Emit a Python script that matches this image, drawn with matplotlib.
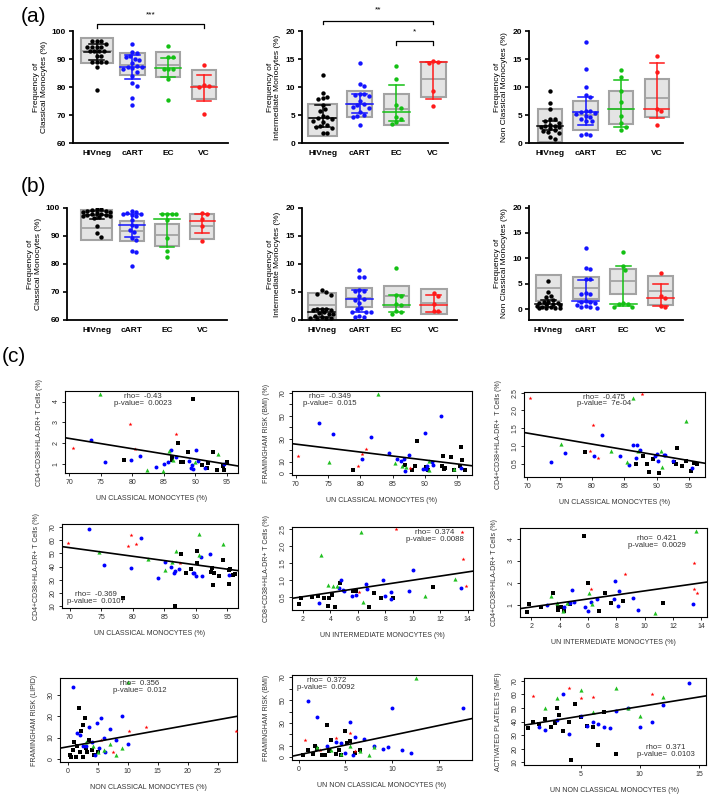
import numpy as np
import matplotlib
matplotlib.use('Agg')
import matplotlib.pyplot as plt
from matplotlib.patches import Rectangle

plt.rcParams['font.family'] = ['Liberation Sans', 'DejaVu Sans']

W, H = 709, 795

groups = ['HIVneg', 'cART', 'EC', 'VC']
prism_colors = ['black', '#1414ff', '#14c014', '#ff1a1a']

# ---- panel (a) ----
a_classical_pts = [
    [96.3, 96.3, 96.3, 95.5, 94.4, 94.4, 94.4, 94.4, 92.9, 92.9, 92.9, 92.9, 90.9, 90.9,
     89.0, 89.0, 89.0, 89.0, 87.0, 79.0],
    [95.5, 92.5, 92.0, 91.0, 90.6, 90.0, 89.5, 88.5, 87.5, 87.3, 87.0, 86.8, 86.5, 85.5,
     84.0, 81.5, 80.5, 76.0, 73.7],
    [94.5, 90.8, 90.8, 86.5, 86.3, 86.5, 83.0, 75.2],
    [87.7, 80.8, 80.2, 80.0, 70.5]]
a_classical_box = [(88.7, 92.9, 97.6), (84.3, 88.0, 92.1), (83.5, 87.8, 92.4), (75.8, 80.3, 85.9)]
a_classical_bar = [(89.5, 92.6, 95.5), (83.0, 87.0, 91.5), (83.5, 86.7, 90.5), (75.1, 80.0, 84.3)]

a_inter_pts = [
    [12.1, 9.0, 8.3, 8.1, 7.9, 6.8, 6.0, 5.7, 4.8, 4.6, 4.5, 4.3, 4.0, 3.8, 3.3, 3.0, 2.8,
     2.7, 1.7, 1.7],
    [14.2, 10.5, 10.2, 8.8, 8.7, 8.5, 8.4, 7.5, 7.0, 6.7, 6.4, 6.3, 5.6, 5.0, 4.8, 4.7, 3.2],
    [13.8, 11.4, 6.8, 6.3, 4.7, 4.2, 3.8, 3.4],
    [14.6, 14.4, 14.3, 9.2, 6.6]]
a_inter_box = [(1.2, 4.4, 6.9), (4.6, 7.0, 9.3), (3.3, 6.0, 8.7), (8.3, 11.4, 14.4)]
a_inter_bar = [(2.8, 4.4, 6.8), (5.3, 7.0, 8.8), (4.0, 5.6, 10.3), (7.9, 14.5, 14.5)]

a_nonclass_pts = [
    [9.3, 7.1, 6.1, 4.3, 4.2, 4.0, 3.5, 3.3, 3.1, 3.0, 2.9, 2.8, 2.7, 2.4, 2.2, 1.9, 1.7,
     1.0, 0.8],
    [18.1, 13.3, 10.0, 8.5, 8.2, 5.8, 5.7, 5.5, 5.4, 5.2, 4.9, 4.7, 4.2, 3.9, 3.9, 1.6, 1.5, 1.4],
    [13.0, 11.8, 9.2, 7.3, 4.9, 3.5, 2.8, 2.3],
    [15.6, 12.7, 6.1, 5.7, 3.2]]
a_nonclass_box = [(0.2, 3.1, 6.0), (2.4, 5.0, 7.5), (3.4, 6.1, 9.2), (4.6, 8.0, 11.4)]
a_nonclass_bar = [(2.3, 3.1, 4.0), (3.2, 5.5, 8.2), (2.9, 6.1, 11.2), (4.4, 6.1, 14.2)]

# ---- panel (b) ----
b_classical_pts = [
    [99.8, 99.5, 99.3, 99.0, 98.8, 98.6, 98.4, 98.2, 98.0, 97.8, 97.6, 97.4, 97.2, 97.0,
     96.7, 96.4, 93.5, 91.0, 89.8],
    [98.8, 98.5, 98.3, 98.0, 97.8, 97.5, 97.0, 95.6, 93.8, 93.5, 92.3, 91.5, 89.2, 88.7,
     84.8, 84.3, 79.2],
    [98.0, 98.0, 97.8, 97.7, 95.6, 89.4, 84.8, 82.6],
    [98.3, 97.7, 95.9, 93.6, 88.2]]
b_classical_box = [(88.7, 93.0, 99.4), (88.1, 91.8, 95.5), (86.3, 90.3, 94.4), (88.8, 93.4, 98.0)]
b_classical_bar = [(96.0, 97.6, 98.8), (89.5, 94.1, 98.0), (86.0, 96.0, 97.8), (91.0, 95.5, 97.8)]

b_inter_pts = [
    [5.3, 5.0, 4.7, 4.5, 2.0, 1.9, 1.9, 1.8, 1.7, 1.5, 1.3, 1.1, 1.0, 0.8, 0.5, 0.4, 0.3,
     0.3, 0.2],
    [9.0, 7.7, 7.6, 5.3, 5.2, 5.1, 4.2, 3.7, 3.6, 3.0, 2.2, 2.0, 1.5, 1.4, 1.4, 0.7, 0.6, 0.5],
    [9.2, 4.5, 4.3, 2.9, 2.7, 1.6, 1.4, 1.1],
    [4.9, 4.3, 2.9, 1.6, 1.6]]
b_inter_box = [(0.3, 2.6, 4.9), (2.4, 4.0, 5.7), (2.4, 4.2, 6.1), (1.1, 3.1, 5.5)]
b_inter_bar = [(0.5, 1.5, 2.0), (1.4, 3.8, 5.3), (1.4, 2.7, 4.4), (1.5, 2.7, 4.5)]

b_nonclass_pts = [
    [5.5, 3.5, 2.6, 2.5, 1.8, 1.5, 1.4, 1.3, 1.2, 1.1, 1.0, 0.8, 0.7, 0.5, 0.4, 0.3, 0.3,
     0.2, 0.2],
    [12.1, 8.1, 8.0, 6.0, 5.9, 3.2, 3.1, 3.0, 1.6, 1.5, 1.4, 1.2, 0.8, 0.6, 0.5, 0.4, 0.3],
    [11.3, 8.6, 7.8, 1.2, 1.0, 1.0, 0.5, 0.4],
    [7.2, 2.6, 2.2, 0.6, 0.4]]
b_nonclass_box = [(1.6, 4.1, 6.7), (2.0, 4.1, 6.3), (3.1, 5.5, 8.0), (0.8, 3.6, 6.5)]
b_nonclass_bar = [(0.5, 1.1, 1.8), (1.4, 1.6, 5.8), (0.7, 1.0, 8.5), (0.6, 2.2, 5.0)]

# ---- panel (c) scatter data: K=HIVneg, B=cART, G=EC, R=VC ----
c11_g = 'GRBBKRBRBGBGBBGBKKGBRKKKBKBBBKGBBKKKBKGKKBKK'
c11_x = [74.9, 70.5, 73.5, 75.6, 78.6, 79.7, 79.8, 80.5, 81.2, 82.3, 83.8, 84.8, 85.1, 85.7,
         85.8, 86.2, 86.3, 86.3, 86.5, 86.9, 87.0, 87.2, 87.7, 88.0, 89.0, 88.8, 89.3, 89.5,
         89.7, 89.6, 89.9, 90.2, 90.4, 91.1, 91.8, 92.1, 91.6, 92.9, 93.6, 93.5, 94.4, 94.6,
         95.1, 94.6]
c11_y = [4.37, 1.75, 2.12, 1.06, 1.16, 2.91, 1.19, 1.72, 1.37, 0.71, 0.82, 0.66, 0.97, 1.10,
         1.59, 1.66, 1.16, 1.30, 1.16, 1.32, 2.41, 2.00, 1.08, 1.08, 1.14, 1.58, 0.77, 0.92,
         0.76, 4.14, 1.10, 1.68, 1.11, 0.92, 0.81, 1.03, 0.77, 1.58, 1.46, 0.71, 0.89, 0.98,
         1.06, 0.69]

c12_g = 'RBGBKRBRRBGBGBBGBKBGBRKKKBBKBKGGBBBBKKKKKGKBKKKK'
c12_x = [70.4, 73.6, 75.1, 75.8, 78.9, 79.7, 80.2, 80.2, 80.9, 81.7, 82.8, 84.4, 85.4, 85.6,
         86.3, 86.4, 86.8, 86.9, 86.9, 87.0, 87.5, 87.7, 88.0, 88.5, 88.8, 89.7, 90.1, 90.2,
         90.3, 90.5, 90.7, 90.7, 91.1, 91.3, 92.5, 90.0, 92.7, 92.8, 93.0, 93.1, 94.0, 94.5,
         94.5, 95.6, 95.4, 95.6, 95.7, 96.2]
c12_y = [15.0, 43.4, 9.3, 34.1, 2.3, 6.4, 12.7, 16.8, 21.1, 31.2, 69.4, 17.9, 8.7, 12.7,
         10.4, 6.4, 12.1, 7.2, 1.7, 5.5, 15.6, 4.6, 2.3, 6.1, 28.0, 3.5, 3.5, 5.2,
         6.4, 2.9, 2.3, 10.4, 9.8, 6.9, 49.5, 35.3, 6.4, 15.0, 3.5, 4.6, 13.9, 3.5,
         2.3, 4.3, 6.4, 23.1, 11.6, 2.3]

c13_g = 'RBGBKRRBRBGBGBBGBKBGBRKKKBBBKKGGBBBKKKKGKBKKK'
c13_x = [70.5, 73.7, 75.2, 75.9, 78.9, 79.7, 80.2, 80.3, 81.0, 81.6, 82.9, 84.4, 85.4, 85.7,
         86.3, 86.4, 86.8, 86.9, 87.0, 87.1, 87.5, 87.8, 87.9, 88.5, 88.8, 89.8, 90.0, 90.2,
         89.5, 90.4, 90.7, 90.8, 91.1, 91.3, 92.6, 92.7, 93.0, 93.1, 94.0, 94.5, 94.6, 95.5,
         95.4, 95.8, 96.2]
c13_y = [2.36, 0.55, 1.04, 0.80, 0.82, 0.85, 1.59, 0.70, 0.67, 1.30, 0.85, 0.71, 0.55, 0.47,
         1.02, 2.36, 0.67, 0.48, 1.01, 0.85, 0.88, 2.45, 0.70, 0.48, 0.26, 0.71, 0.77, 0.56,
         0.63, 0.24, 0.85, 0.40, 0.73, 0.74, 0.57, 0.54, 0.48, 0.93, 0.44, 1.71, 0.58, 0.38,
         0.28, 0.52, 0.48]

c21_g = 'RBGBRRRBBKGBGBBGBBKGBRKKKBBBKKGGBBBKKKKKKGBKKKKK'
c21_x = [69.8, 73.1, 74.6, 75.4, 79.7, 79.3, 80.5, 79.8, 81.3, 78.5, 82.4, 84.0, 85.1, 85.2,
         86.1, 86.2, 86.5, 86.7, 86.7, 86.8, 87.3, 87.5, 87.7, 88.5, 89.3, 89.6, 89.8, 90.0,
         90.2, 90.2, 90.5, 90.5, 90.8, 91.0, 92.3, 92.4, 92.6, 92.8, 92.9, 93.7, 94.3, 94.4,
         95.2, 95.3, 95.3, 95.5, 95.9, 96.2]
c21_y = [58.0, 68.0, 50.6, 41.1, 63.9, 55.6, 57.1, 39.2, 61.7, 16.1, 45.5, 31.0, 37.7, 43.3,
         39.6, 43.3, 35.2, 36.3, 10.5, 52.0, 38.2, 42.6, 49.1, 35.5, 38.2, 35.5, 35.5, 32.6,
         42.3, 51.8, 64.2, 48.4, 47.2, 32.8, 49.4, 35.7, 38.7, 26.3, 35.0, 33.0, 44.9, 57.1,
         34.0, 37.4, 26.5, 38.2, 34.0, 34.5]

c22_g = 'KKKKBGKKGKKGKGBKBBBGBKBKRGBBKKBBKBKBRBBGKGRRBR'
c22_x = [1.7, 1.83, 2.68, 3.1, 3.2, 3.3, 3.5, 3.8, 3.8, 3.9, 4.1, 4.2, 4.3, 4.5, 4.6, 4.7,
         4.75, 4.9, 5.0, 6.2, 5.6, 5.65, 5.9, 5.9, 6.1, 6.4, 6.6, 6.7, 6.8, 7.2, 7.8, 8.0,
         7.7, 8.4, 8.6, 8.4, 8.8, 9.7, 10.0, 10.9, 11.5, 13.1, 13.6, 13.7, 13.5, 13.9]
c22_y = [0.32, 0.47, 0.52, 0.54, 0.35, 1.75, 0.47, 0.25, 0.86, 0.48, 0.57, 0.83, 0.23, 0.83,
         0.77, 0.93, 1.02, 0.71, 0.70, 2.43, 0.55, 0.70, 0.57, 0.69, 0.67, 0.37, 0.88, 0.75,
         0.22, 0.62, 1.02, 0.54, 0.47, 0.66, 0.47, 0.46, 2.50, 0.70, 1.32, 0.54, 0.82, 1.05,
         2.43, 1.62, 0.79, 0.85]

c23_g = 'KKKBKGKGKKGKBGBKBBKBGKRBGBBKKKBBBRBKBBGKGRRRB'
c23_x = [1.7, 1.8, 2.7, 3.1, 3.5, 3.4, 3.85, 3.8, 3.9, 4.1, 4.2, 4.3, 4.3, 4.5, 4.7, 4.75,
         4.9, 5.0, 5.7, 5.8, 6.1, 6.0, 6.2, 6.0, 6.3, 6.2, 6.6, 6.8, 7.2, 7.6, 7.8, 7.9, 8.2,
         8.6, 8.1, 8.5, 9.2, 9.5, 10.7, 11.3, 13.6, 13.5, 13.5, 13.7, 13.4]
c23_y = [0.71, 1.06, 0.94, 1.00, 1.55, 1.45, 0.91, 1.12, 0.79, 0.94, 0.73, 0.73, 0.94, 1.09,
         1.09, 1.06, 1.70, 1.14, 4.15, 0.94, 1.58, 2.00, 1.73, 0.76, 1.06, 1.15, 1.30, 0.76,
         1.58, 1.09, 1.30, 2.10, 1.64, 2.41, 0.97, 1.20, 1.33, 0.80, 0.64, 1.12, 4.38, 2.93,
         1.76, 1.58, 1.06]

c31_g = 'KKKKKKKKKKKKKKKKKKBBBBBBBBBBBBBBBBBGGGGGGGGRRRRR'
c31_x = [0.3, 0.8, 1.0, 1.3, 1.5, 1.8, 2.0, 2.2, 2.5, 2.8, 3.0, 3.2, 3.5, 4.0, 4.3, 0.5, 2.6,
         5.0, 0.8, 1.5, 2.0, 3.0, 3.5, 4.0, 4.8, 5.5, 6.0, 7.0, 8.0, 9.0, 10.0, 6.2, 4.5, 2.5,
         5.2, 10.0, 3.0, 4.2, 5.0, 6.0, 7.0, 8.0, 9.0, 10.2, 13.0, 28.0, 5.5, 7.5]
c31_y = [2, 4, 8, 1, 6, 24, 3, 13, 1, 19, 5, 3, 9, 4, 2, 1, 16, 3, 34, 12, 11, 6, 15, 8, 17,
         19, 10, 14, 9, 20, 7, 3, 2, 6, 5, 36, 8, 6, 3, 4, 7, 2, 5, 13, 15, 13, 9, 3]

c32_g = 'KKKKKKKKKKKKKKKKKKBBBBBBBBBBBBBBBBBGGGGGGGGRRRRR'
c32_x = [0.5, 1.0, 1.5, 2.0, 2.5, 3.0, 3.2, 3.5, 4.0, 4.3, 4.5, 5.0, 5.2, 5.5, 6.0, 2.8, 1.8,
         6.5, 1.0, 2.0, 3.0, 4.0, 4.5, 5.0, 5.5, 6.0, 7.0, 8.0, 9.0, 9.5, 10.0, 11.0, 12.0,
         17.5, 5.8, 12.5, 2.0, 3.5, 4.5, 5.5, 6.5, 7.5, 8.0, 0.7, 2.3, 4.0, 5.5, 6.0]
c32_y = [2, 6, 3, 7, 2, 28, 5, 15, 3, 6, 2, 23, 12, 14, 4, 2, 10, 6, 49, 35, 10, 13, 12, 4,
         31, 18, 16, 10, 7, 9, 43, 6, 4, 43, 2, 69, 9, 6, 3, 10, 5, 2, 9, 15, 6, 17, 21, 5]

c33_g = 'KKKKKKKKKKKKKKKKKKBBBBBBBBBBBBBBBBBGGGGGGGGRRRRR'
c33_x = [0.5, 1.0, 1.5, 2.0, 2.5, 3.0, 3.2, 3.5, 4.0, 4.5, 5.0, 5.5, 6.0, 6.5, 8.0, 4.2, 2.8,
         7.0, 1.5, 2.0, 3.0, 4.0, 5.0, 5.5, 6.0, 6.5, 7.0, 7.5, 8.0, 9.0, 10.0, 11.0, 12.0,
         14.2, 3.5, 2.0, 3.0, 5.0, 6.0, 8.0, 9.0, 10.0, 12.0, 1.0, 4.0, 5.0, 6.0, 11.0]
c33_y = [35, 40, 38, 42, 36, 50, 45, 33, 40, 53, 43, 37, 36, 23, 16, 12, 39, 47, 36, 34, 41,
         31, 44, 37, 40, 38, 36, 35, 48, 50, 36, 40, 52, 68, 60, 50, 57, 63, 47, 65, 50, 44,
         58, 59, 65, 57, 58, 60]

# regression lines (slope, intercept)
c_lines = [(-0.0496, 5.69), (-0.692, 73.7), (-0.031, 3.53),
           (-0.647, 99.5), (0.0606, 0.40), (0.0909, 0.75),
           (0.508, 5.66), (1.72, 2.0), (1.40, 37.0)]
c_stats = [('-0.43', '0.0023'), ('-0.349', '0.015'), ('-0.475', '7e-04'),
           ('-0.369', '0.0107'), ('0.374', '0.0088'), ('0.421', '0.0029'),
           ('0.356', '0.012'), ('0.372', '0.0092'), ('0.371', '0.0103')]

fig = plt.figure(figsize=(W / 100, H / 100), dpi=100)


def px_axes(l, r, t, b):
    return fig.add_axes([l / W, 1 - b / H, (r - l) / W, (b - t) / H])


def swarm_x(ax, center, vals, half_w, diam=4.6):
    # simple beeswarm, kept inside +-half_w (data units)
    trans = ax.transData
    cx = trans.transform((center, 0))[0]
    maxw = trans.transform((center + half_w, 0))[0] - cx
    cands = [0.0]
    n = 1
    while n * diam * 0.5 <= maxw:
        cands += [n * diam * 0.5, -n * diam * 0.5]
        n += 1
    placed, offs = [], []
    for v in vals:
        py = trans.transform((center, v))[1]
        best, best_d = 0.0, -1
        for off in cands:
            d = min([np.hypot(off - ox, py - oy) for ox, oy in placed] + [99])
            if d >= diam:
                best = off
                break
            if d > best_d:
                best, best_d = off, d
        placed.append((best, py))
        offs.append(best)
    inv = trans.inverted()
    return [inv.transform((cx + o, 0))[0] for o in offs]


def prism_panel(ax, pts, box, bar, xlim, ylim, yticks, ylabel, box_w):
    ax.set_xlim(xlim)
    ax.set_ylim(ylim)
    for i, (vals, bx, br, col) in enumerate(zip(pts, box, bar, prism_colors)):
        lo, mid, hi = bx
        w = box_w[i]
        ax.add_patch(Rectangle((i - w / 2, lo), w, hi - lo, fc='#e4e4e4', ec='#a3a3a3',
                               lw=1.5, zorder=1))
        ax.plot([i - w / 2, i + w / 2], [mid, mid], color='#a3a3a3', lw=1.3, zorder=1)
        xs = swarm_x(ax, i, vals, w / 2 * 0.92)
        ax.scatter(xs, vals, s=10, color=col, zorder=3, linewidths=0)
        blo, bmed, bhi = br
        ax.plot([i - 0.36, i + 0.36], [bmed, bmed], color=col, lw=1.1, zorder=4)
        ax.plot([i, i], [blo, bhi], color=col, lw=1.1, zorder=4)
        for yy in (blo, bhi):
            ax.plot([i - 0.2, i + 0.2], [yy, yy], color=col, lw=1.1, zorder=4)
    for s in ['top', 'right']:
        ax.spines[s].set_visible(False)
    for s in ['left', 'bottom']:
        ax.spines[s].set_linewidth(1.3)
    ax.set_yticks(yticks)
    ax.set_xticks(range(4))
    ax.set_xticklabels(groups)
    ax.tick_params(direction='out', length=3, width=1.2, labelsize=6, pad=2)
    ax.tick_params(axis='x', length=0, pad=5)
    for lbl in ax.get_xticklabels() + ax.get_yticklabels():
        lbl.set_fontweight('bold')
    ax.set_ylabel(ylabel, fontsize=6, labelpad=3, linespacing=1.1)


def bracket(ax, x1, x2, y, drop, label, ty):
    ax.plot([x1, x1, x2, x2], [y - drop, y, y, y - drop], color='black', lw=0.9,
            clip_on=False)
    ax.text((x1 + x2) / 2, ty, label, ha='center', va='center', fontsize=6, clip_on=False)


lab_cls = 'Frequency of\nClassical Monocytes (%)'
lab_int = 'Frequency of\nIntermediate Monocytes (%)'
lab_non = 'Frequency of\nNon Classical Monocytes (%)'

ax = px_axes(73, 228, 31, 143)
prism_panel(ax, a_classical_pts, a_classical_box, a_classical_bar, (-0.66, 3.67), (60, 100),
            [60, 70, 80, 90, 100], lab_cls, [0.9, 0.68, 0.68, 0.68])
bracket(ax, 0, 3, 102.5, 1.3, '***', 105.8)

ax = px_axes(302, 448, 31, 143)
prism_panel(ax, a_inter_pts, a_inter_box, a_inter_bar, (-0.56, 3.40), (0, 20),
            [0, 5, 10, 15, 20], lab_int, [0.78, 0.68, 0.68, 0.68])
bracket(ax, 0, 3, 21.8, 0.6, '**', 23.7)
bracket(ax, 2, 3, 18.3, 0.8, '*', 19.8)

ax = px_axes(529, 683, 31, 143)
prism_panel(ax, a_nonclass_pts, a_nonclass_box, a_nonclass_bar, (-0.59, 3.74), (0, 20),
            [0, 5, 10, 15, 20], lab_non, [0.68, 0.68, 0.68, 0.68])

ax = px_axes(67, 227, 208, 320)
prism_panel(ax, b_classical_pts, b_classical_box, b_classical_bar, (-0.84, 3.70), (60, 100),
            [60, 70, 80, 90, 100], lab_cls, [0.9, 0.68, 0.68, 0.68])

ax = px_axes(302, 457, 208, 320)
prism_panel(ax, b_inter_pts, b_inter_box, b_inter_bar, (-0.53, 3.62), (0, 20),
            [0, 5, 10, 15, 20], lab_int, [0.75, 0.68, 0.68, 0.68])

ax = px_axes(529, 683, 206, 320)
prism_panel(ax, b_nonclass_pts, b_nonclass_box, b_nonclass_bar, (-0.52, 3.60), (-2.1, 20.3),
            [0, 5, 10, 15, 20], lab_non, [0.68, 0.68, 0.68, 0.68])

# ---- panel (c) ----
mk = {'K': dict(marker='s', color='black', s=6),
      'B': dict(marker='o', color='#0000ff', s=8),
      'G': dict(marker='^', color='#22c022', s=9),
      'R': dict(marker='*', color='#ff0000', s=9)}

c_boxes = [(65, 238, 391, 473), (292, 472, 391, 475), (524, 705, 392, 477),
           (62, 238, 524, 608), (292, 473, 527, 610), (520, 707, 528, 617),
           (60, 237, 678, 762), (292, 472, 675, 760), (524, 706, 678, 765)]
c_data = [(c11_x, c11_y, c11_g), (c12_x, c12_y, c12_g), (c13_x, c13_y, c13_g),
          (c21_x, c21_y, c21_g), (c22_x, c22_y, c22_g), (c23_x, c23_y, c23_g),
          (c31_x, c31_y, c31_g), (c32_x, c32_y, c32_g), (c33_x, c33_y, c33_g)]
c_xlims = [(69.3, 96.8), (69.4, 97.3), (69.5, 97.5), (68.8, 96.7), (1.2, 14.4), (1.2, 14.4),
           (-1.3, 28.2), (-0.7, 18.5), (0.2, 15.6)]
c_ylims = [(0.55, 4.51), (-1.7, 71.7), (0.12, 2.52), (8.8, 72.0), (0.13, 2.57), (0.48, 4.5),
           (-1.5, 38.0), (-2.5, 72.0), (8.0, 72.0)]
c_xticks = [[70, 75, 80, 85, 90, 95]] * 4 + [[2, 4, 6, 8, 10, 12, 14]] * 2 + \
           [[0, 5, 10, 15, 20, 25], [0, 5, 10, 15], [5, 10, 15]]
c_yticks = [[1, 2, 3, 4], list(range(0, 71, 10)), [0.5, 1.0, 1.5, 2.0, 2.5],
            list(range(10, 71, 10)), [0.5, 1.0, 1.5, 2.0, 2.5], [1, 2, 3, 4],
            [0, 10, 20, 30], list(range(0, 71, 10)), list(range(10, 71, 10))]
c_ylabels = ['CD4+CD38+HLA-DR+ T Cells (%)', 'FRAMINGHAM RISK (BMI) (%)',
             'CD4+CD38+HLA-DR+  T Cells (%)', 'CD4+CD38+HLA-DR+ T Cells (%)',
             'CD8+CD38+HLA-DR+ T Cells (%)', 'CD4+CD38+HLA-DR+ T Cells (%)',
             'FRAMINGHAM RISK (LIPID)', 'FRAMINGHAM RISK (BMI)', 'ACTIVATED PLATELETS (MFI)']
c_xlabels = ['UN CLASSICAL MONOCYTES (%)'] * 4 + ['UN INTERMEDIATE MONOCYTES (%)'] * 2 + \
            ['NON CLASSICAL MONOCYTES (%)', 'UN NON CLASSICAL MONOCYTES (%)',
             'UN NON CLASSICAL MONOCYTES (%)']
c_textpos = [(0.45, 0.935, 0.85), (0.21, 0.935, 0.855), (0.44, 0.94, 0.865),
             (0.19, 0.16, 0.075), (0.79, 0.935, 0.855), (0.73, 0.885, 0.80),
             (0.45, 0.935, 0.85), (0.19, 0.935, 0.85), (0.78, 0.205, 0.12)]

for k in range(9):
    l, r, t, b = c_boxes[k]
    ax = px_axes(l, r, t, b)
    xs, ys, gs = c_data[k]
    for code in 'KBGR':
        sel = [i for i, c in enumerate(gs) if c == code and i < len(xs)]
        ax.scatter([xs[i] for i in sel], [ys[i] for i in sel], linewidths=0, zorder=3,
                   **mk[code])
    ax.set_xlim(c_xlims[k])
    ax.set_ylim(c_ylims[k])
    slope, icpt = c_lines[k]
    xl = np.array(c_xlims[k])
    ax.plot(xl, icpt + slope * xl, color='black', lw=1.2, zorder=4)
    ax.set_xticks(c_xticks[k])
    ax.set_yticks(c_yticks[k])
    if k in (1, 7):
        ax.set_yticklabels(['0', '10', '', '30', '', '50', '', '70'])
    elif k in (2, 4):
        ax.set_yticklabels(['0.5', '1.0', '1.5', '2.0', '2.5'])
    ax.tick_params(direction='out', length=2.5, width=0.6, labelsize=5, pad=1.5,
                   labelcolor='#333333')
    ax.tick_params(axis='y', labelrotation=90)
    for lbl in ax.get_yticklabels():
        lbl.set_va('center')
    for s in ax.spines.values():
        s.set_linewidth(0.8)
    ax.set_ylabel(c_ylabels[k], fontsize=5, color='#333333', labelpad=7)
    ax.set_xlabel(c_xlabels[k], fontsize=5, color='#333333', labelpad=7)
    tx, ty1, ty2 = c_textpos[k]
    rho, pv = c_stats[k]
    ax.text(tx, ty1, 'rho=  ' + rho, transform=ax.transAxes, ha='center', va='center',
            fontsize=5.6, color='#333333')
    ax.text(tx, ty2, 'p-value=  ' + pv, transform=ax.transAxes, ha='center', va='center',
            fontsize=5.6, color='#333333')

fig.text(33 / W, 1 - 16 / H, '(a)', fontsize=15, ha='center', va='center')
fig.text(33 / W, 1 - 186 / H, '(b)', fontsize=15, ha='center', va='center')
fig.text(14 / W, 1 - 356 / H, '(c)', fontsize=15, ha='center', va='center')

fig.savefig('out.png', dpi=100)
